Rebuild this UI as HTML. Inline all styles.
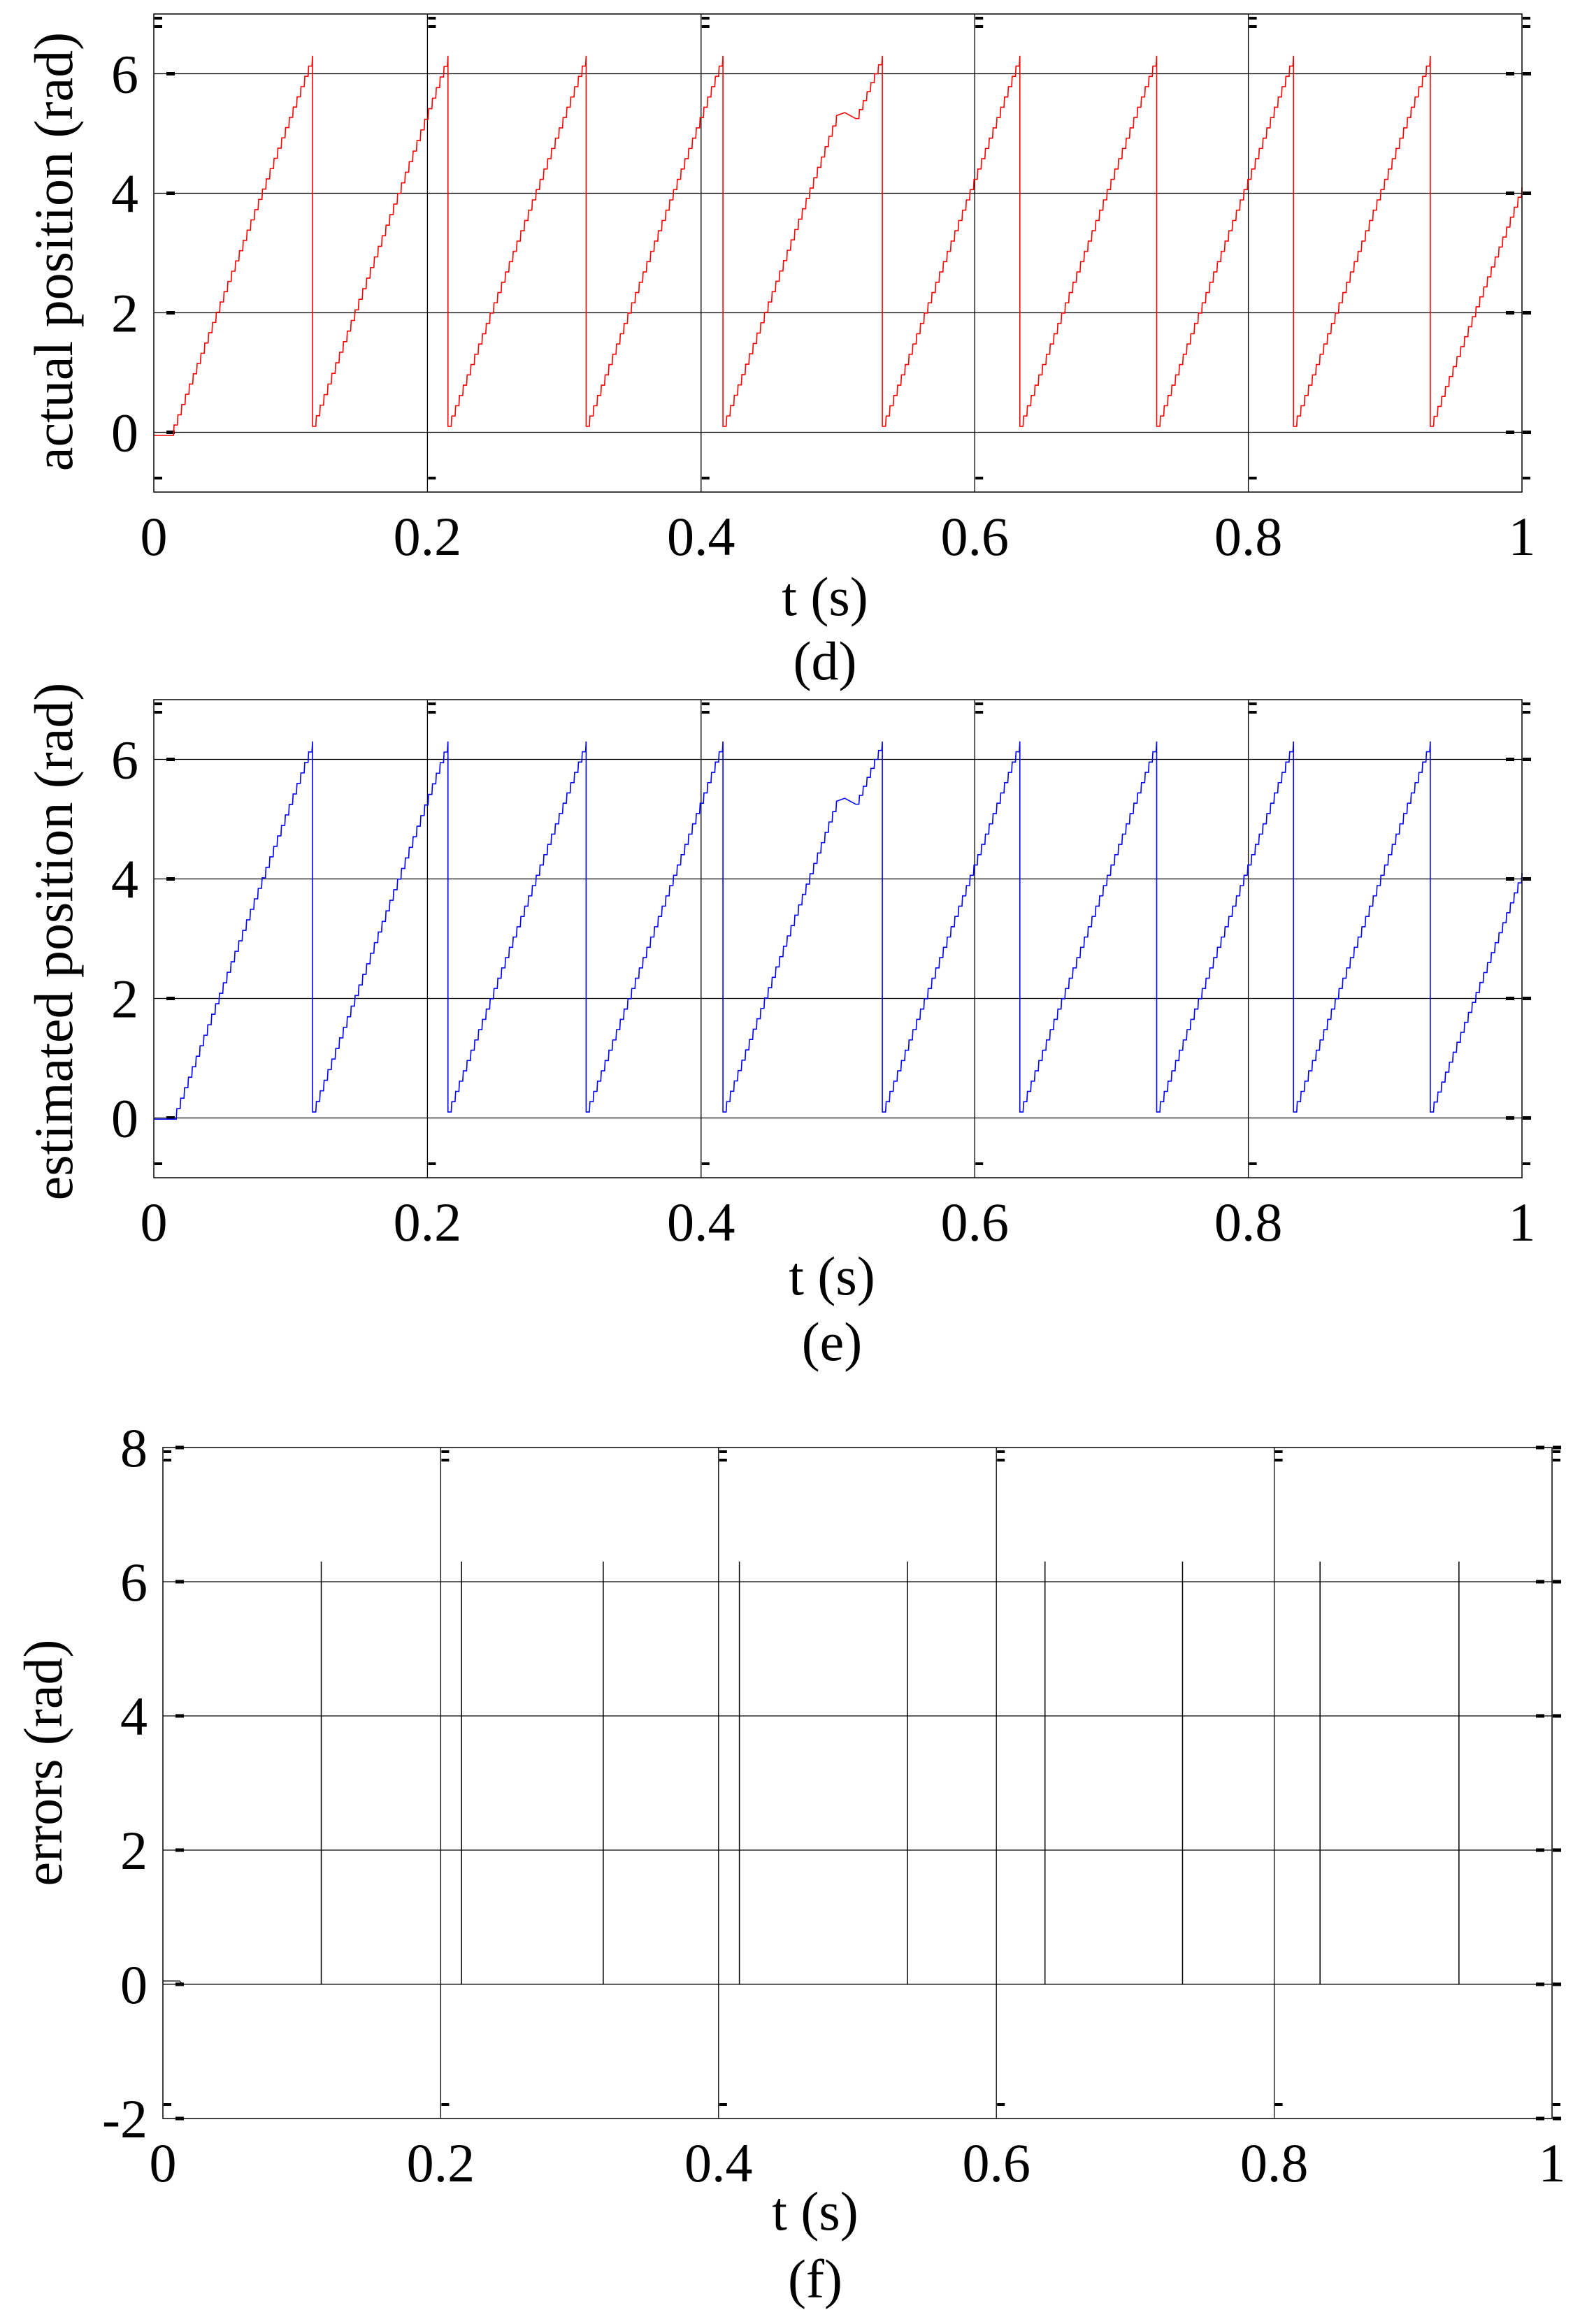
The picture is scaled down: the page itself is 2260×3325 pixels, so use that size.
<!DOCTYPE html>
<html><head><meta charset="utf-8">
<style>
html,body{margin:0;padding:0;background:#fff;}
svg{display:block;font-family:"Liberation Serif",serif;}
</style></head>
<body>
<svg id="chart" width="2260" height="3325" viewBox="0 0 2260 3325" xmlns="http://www.w3.org/2000/svg"></svg>
<script>
// ---- data ----
const actualT = [0, 0.012, 0.116, 0.116, 0.215, 0.215, 0.316, 0.316, 0.416, 0.416, 0.499, 0.505, 0.513, 0.5325, 0.5325, 0.633, 0.633, 0.733, 0.733, 0.833, 0.833, 0.933, 0.933, 1.0];
const actualV = [-0.05, -0.05, 6.3, 0.1, 6.3, 0.1, 6.3, 0.1, 6.3, 0.1, 5.3, 5.35, 5.25, 6.3, 0.1, 6.3, 0.1, 6.3, 0.1, 6.3, 0.1, 6.3, 0.1, 4.1];
const estT = [0, 0.014, 0.116, 0.116, 0.215, 0.215, 0.316, 0.316, 0.416, 0.416, 0.499, 0.505, 0.513, 0.5325, 0.5325, 0.633, 0.633, 0.733, 0.733, 0.833, 0.833, 0.933, 0.933, 1.0];
const estV = [-0.02, -0.02, 6.3, 0.1, 6.3, 0.1, 6.3, 0.1, 6.3, 0.1, 5.3, 5.35, 5.25, 6.3, 0.1, 6.3, 0.1, 6.3, 0.1, 6.3, 0.1, 6.3, 0.1, 4.1];
const errT = [0.114, 0.215, 0.317, 0.415, 0.536, 0.635, 0.734, 0.833, 0.933];
const errV = [6.3, 6.3, 6.3, 6.3, 6.3, 6.3, 6.3, 6.3, 6.3];
const xTicks = [0, 0.2, 0.4, 0.6, 0.8, 1];
const xTickLabels = ["0", "0.2", "0.4", "0.6", "0.8", "1"];
const posYTicks = [0, 2, 4, 6];
const errYTicks = [-2, 0, 2, 4, 6, 8];

const NS = "http://www.w3.org/2000/svg";
const svg = document.getElementById("chart");
function mk(tag, attrs, parent) {
  const e = document.createElementNS(NS, tag);
  for (const k in attrs) e.setAttribute(k, attrs[k]);
  (parent || svg).appendChild(e);
  return e;
}

function panel(p) {
  const g = mk("g", {});
  
  
  const sx = t => p.x0 + (t - 0) / 1 * (p.x1 - p.x0);
  const sy = v => p.y1 - (v - p.ymin) / (p.ymax - p.ymin) * (p.y1 - p.y0);
  // grid
  xTicks.forEach(t => {
    if (t > 0 && t < 1) {
      const l = mk("line", {x1: sx(t), x2: sx(t), y1: p.y0, y2: p.y1, stroke: "#000", "stroke-width": 1.3}, g);
      
      
    }
  });
  p.yTicks.forEach(v => {
    if (v > p.ymin && v < p.ymax) {
      const l = mk("line", {x1: p.x0, x2: p.x1, y1: sy(v), y2: sy(v), stroke: "#000", "stroke-width": 1.3}, g);
      
      
    }
  });
  // tick dashes
  p.yTicks.forEach(v => {
    [p.x0 + 18, p.x1 - 23, p.x1 + 1].forEach(xx => {
      const r = mk("rect", {x: xx, y: sy(v) - 2.5, width: 12, height: 5, fill: "#000"}, g);
      
      
    });
  });
  xTicks.forEach(t => {
    [p.y0 + 4, p.y0 + 16, p.y1 - 22].forEach(yy => {
      const r = mk("rect", {x: sx(t) + 1, y: yy, width: 11, height: 4, fill: "#000"}, g);
      
      
    });
  });
  // data
  if (p.kind === "saw") {
    let d = "";
    for (let i = 0; i < p.T.length; i++) {
      const t = p.T[i], v = p.V[i];
      if (i === 0) { d += "M" + sx(t) + " " + sy(v); continue; }
      const t0 = p.T[i - 1], v0 = p.V[i - 1];
      const dur = t - t0;
      if (dur > 0.01 && v > v0 + 0.5) {
        const n = Math.round(dur / 0.0028);
        for (let k = 1; k <= n; k++) {
          const tk = t0 + dur * k / n;
          const vprev = v0 + (v - v0) * (k - 1) / n;
          const vk = v0 + (v - v0) * k / n;
          d += " L" + sx(tk - dur / n * 0.15) + " " + sy(vprev);
          d += " L" + sx(tk) + " " + sy(vk);
        }
      } else {
        d += " L" + sx(t) + " " + sy(v);
      }
    }
    const path = mk("path", {d: d, fill: "none", stroke: p.color, "stroke-width": 1.6}, g);
    
    
  } else {
    const base = mk("path", {d: "M" + sx(0) + " " + sy(0.05) + " L" + sx(0.012) + " " + sy(0.05) + " L" + sx(0.014) + " " + sy(0), fill: "none", stroke: "#000", "stroke-width": 1.3}, g);
    
    
    p.T.forEach((t, i) => {
      const l = mk("line", {x1: sx(t), x2: sx(t), y1: sy(0), y2: sy(p.V[i]), stroke: "#000", "stroke-width": 1.5}, g);
      
      
    });
  }
  // box
  const box = mk("rect", {x: p.x0, y: p.y0, width: p.x1 - p.x0, height: p.y1 - p.y0, fill: "none", stroke: "#000", "stroke-width": 1.5}, g);
  
  
  // labels
  xTicks.forEach((t, i) => {
    const tx = mk("text", {x: sx(t), y: p.y1 + 90, "font-size": 78, "text-anchor": "middle"}, g);
    tx.textContent = xTickLabels[i];
    
    
  });
  p.yTicks.forEach(v => {
    const tx = mk("text", {x: p.x0 - 22, y: sy(v) + 27, "font-size": 78, "text-anchor": "end"}, g);
    tx.textContent = String(v);
    
    
  });
  const xl = mk("text", {x: p.xlabX, y: p.xlabY, "font-size": 78, "text-anchor": "middle"}, g);
  xl.textContent = "t (s)";
  
  
  const cap = mk("text", {x: p.xlabX, y: p.capY, "font-size": 78, "text-anchor": "middle"}, g);
  cap.textContent = p.caption;
  
  
  const yl = mk("text", {x: 0, y: 0, "font-size": 78, "text-anchor": "middle", transform: "translate(" + p.ylabX + "," + p.ylabY + ") rotate(-90)"}, g);
  yl.textContent = p.ylabel;
  
  
}

panel({name: "panel-d-actual-position", x0: 220, x1: 2177, y0: 20, y1: 704, ymin: -1, ymax: 7, yTicks: posYTicks,
  kind: "saw", T: actualT, V: actualV, color: "#ff0000", seriesName: "actual-position-line",
  xlabX: 1180, xlabY: 880, capY: 972, caption: "(d)", ylabel: "actual position (rad)", ylabX: 103, ylabY: 360});
panel({name: "panel-e-estimated-position", x0: 220, x1: 2177, y0: 1001, y1: 1685, ymin: -1, ymax: 7, yTicks: posYTicks,
  kind: "saw", T: estT, V: estV, color: "#0000ff", seriesName: "estimated-position-line",
  xlabX: 1190, xlabY: 1852, capY: 1946, caption: "(e)", ylabel: "estimated position (rad)", ylabX: 103, ylabY: 1347});
panel({name: "panel-f-errors", x0: 233, x1: 2220, y0: 2071, y1: 3031, ymin: -2, ymax: 8, yTicks: errYTicks,
  kind: "err", T: errT, V: errV,
  xlabX: 1166, xlabY: 3190, capY: 3287, caption: "(f)", ylabel: "errors (rad)", ylabX: 88, ylabY: 2522});
</script>
</body></html>
